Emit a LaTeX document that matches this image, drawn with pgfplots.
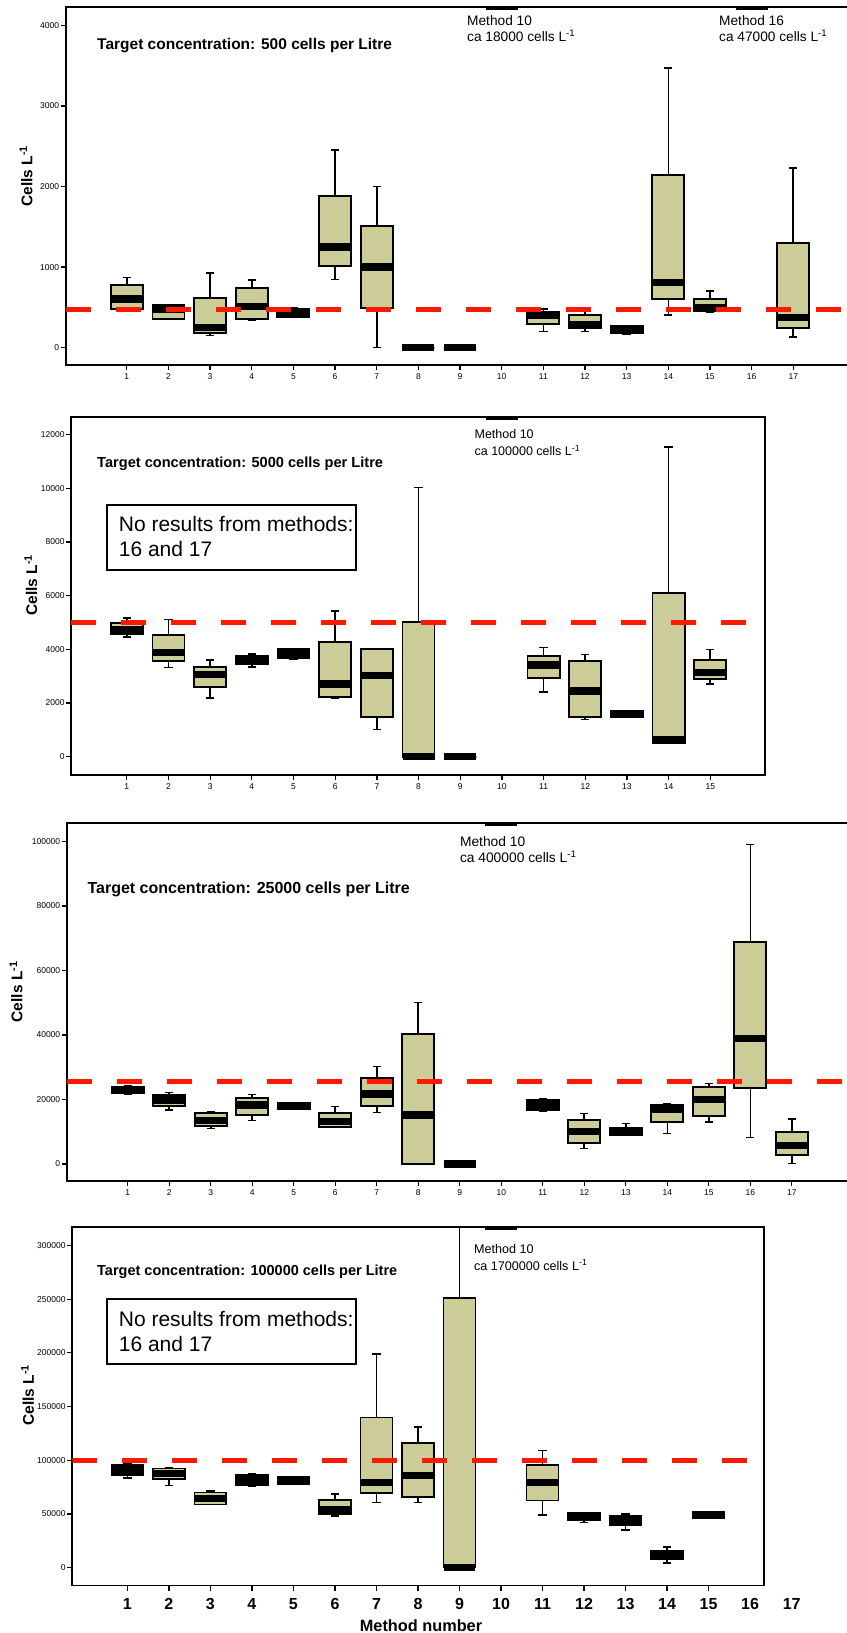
\documentclass[border=0pt]{standalone}
\usepackage{pgfplots}
\pgfplotsset{compat=1.18}
\usepackage{fontspec}
\setmainfont{Liberation Sans}
\definecolor{boxtan}{RGB}{204,204,153}
\definecolor{tred}{RGB}{255,25,0}
% box: position, lower whisker, lower quartile, median, upper quartile, upper whisker
\newcommand{\bx}[6]{%
  \pgfmathsetmacro{\xa}{#1-0.385}\pgfmathsetmacro{\xb}{#1+0.385}%
  \pgfmathsetmacro{\wa}{#1-0.1}\pgfmathsetmacro{\wb}{#1+0.1}%
  \edef\tmp{\noexpand\addplot[black, line width=1.6pt, unbounded coords=jump] coordinates {(#1,#5) (#1,#6) (nan,nan) (\wa,#6) (\wb,#6) (nan,nan) (#1,#3) (#1,#2) (nan,nan) (\wa,#2) (\wb,#2)};
  \noexpand\addplot[fill=boxtan, draw=black, line width=1.8pt] coordinates {(\xa,#3) (\xb,#3) (\xb,#5) (\xa,#5)} -- cycle;
  \noexpand\addplot[black, line width=7.3pt] coordinates {(\xa,#4) (\xb,#4)};}\tmp}
\newcommand{\topbar}[2]{%
  \pgfmathsetmacro{\xa}{#1-0.385}\pgfmathsetmacro{\xb}{#1+0.385}%
  \edef\tmp{\noexpand\addplot[black, line width=7.3pt] coordinates {(\xa,#2) (\xb,#2)};}\tmp}
\pgfplotsset{
  panel/.style={
    scale only axis,
    axis line style={line width=1.8pt},
    tick align=outside,
    tick pos=left,
    major tick length=5pt,
    major tick style={line width=1.3pt, black},
    ticklabel style={font=\fontsize{8.5}{9}\selectfont, inner sep=1.5pt},
    xticklabel style={yshift=-2pt},
    /pgf/number format/assume math mode=true,
    /pgf/number format/1000 sep={},
    scaled y ticks=false,
    yticklabel style={/pgf/number format/fixed, /pgf/number format/precision=0},
    ylabel={\bfseries Cells L\textsuperscript{-1}},
    ylabel style={font=\fontsize{15.5}{17}\selectfont, anchor=center},
  },
}
\begin{document}
\begin{tikzpicture}
\useasboundingbox (0pt,0pt) rectangle (846pt,-1633pt);
% ---------------- Panel 1 ----------------
\begin{axis}[panel, at={(65.8pt,-365pt)}, anchor=south west,
  width=786.2pt, height=358.3pt,
  xmin=-0.464, xmax=18.41, ymin=-215, ymax=4231,
  xtick={1,...,17}, ytick={0,1000,...,4000},
  ylabel style={at={(axis description cs:-0.0506,0.5275)}}]
\bx{1}{470}{476}{604}{778}{869}
\bx{2}{356}{356}{470}{530}{530}
\bx{3}{149}{179}{251}{613}{923}
\bx{4}{335}{356}{514}{744}{840}
\bx{5}{380}{380}{430}{480}{500}
\bx{6}{848}{1017}{1249}{1882}{2452}
\bx{7}{0}{496}{1001}{1505}{1998}
\bx{8}{0}{0}{0}{0}{0}
\bx{9}{0}{0}{0}{0}{0}
\topbar{10}{4231}
\bx{11}{199}{290}{405}{447}{480}
\bx{12}{199}{240}{290}{406}{501}
\bx{13}{170}{175}{220}{265}{270}
\bx{14}{406}{604}{806}{2143}{3474}
\bx{15}{439}{455}{501}{604}{707}
\topbar{16}{4231}
\bx{17}{129}{248}{377}{1303}{2233}
\addplot[tred, line width=5.3pt, dash pattern=on 25pt off 25pt] coordinates {(-0.464,470) (18.41,470)};
\end{axis}
% ---------------- Panel 2 ----------------
\begin{axis}[panel, at={(71.2pt,-775pt)}, anchor=south west,
  width=694.1pt, height=358.3pt,
  xmin=-0.334, xmax=16.32, ymin=-682, ymax=12670,
  xtick={1,...,15}, ytick={0,2000,...,12000},
  ylabel style={at={(axis description cs:-0.058,0.530)}}]
\bx{1}{4472}{4580}{4720}{4968}{5180}
\bx{2}{3329}{3565}{3888}{4533}{5117}
\bx{3}{2186}{2608}{3068}{3353}{3602}
\bx{4}{3353}{3453}{3602}{3763}{3825}
\bx{5}{3651}{3689}{3850}{3999}{4037}
\bx{6}{2174}{2236}{2708}{4273}{5428}
\bx{7}{1018}{1490}{3018}{4024}{4024}
\bx{8}{0}{0}{0}{5005}{10035}
\bx{9}{0}{0}{0}{0}{0}
\topbar{10}{12670}
\bx{11}{2422}{2919}{3415}{3763}{4074}
\bx{12}{1391}{1490}{2447}{3565}{3813}
\bx{13}{1490}{1490}{1615}{1714}{1714}
\bx{14}{497}{497}{621}{6086}{11551}
\bx{15}{2708}{2881}{3142}{3602}{3999}
\addplot[tred, line width=5.3pt, dash pattern=on 25pt off 25pt] coordinates {(-0.334,5000) (16.32,5000)};
\end{axis}
% ---------------- Panel 3 ----------------
\begin{axis}[panel, at={(66.9pt,-1181pt)}, anchor=south west,
  width=785.1pt, height=358.3pt,
  xmin=-0.465, xmax=18.45, ymin=-5271, ymax=105829,
  xtick={1,...,17}, ytick={0,20000,...,100000},
  ylabel style={at={(axis description cs:-0.0646,0.528)}}]
\bx{1}{21700}{21900}{22800}{23900}{24100}
\bx{2}{16744}{17985}{19845}{21395}{22222}
\bx{3}{11059}{11783}{13437}{15918}{16124}
\bx{4}{13437}{15194}{18295}{20362}{21602}
\bx{5}{16951}{16951}{17985}{19018}{19122}
\bx{6}{11576}{11576}{13127}{15711}{17778}
\bx{7}{16021}{17985}{21706}{26770}{30181}
\bx{8}{0}{0}{15194}{40207}{50130}
\bx{9}{0}{0}{0}{0}{0}
\topbar{10}{105829}
\bx{11}{16228}{16744}{18295}{19845}{20155}
\bx{12}{4858}{6408}{10026}{13644}{15711}
\bx{13}{8992}{8992}{10336}{11266}{12610}
\bx{14}{9509}{13116}{17100}{18295}{18821}
\bx{15}{13116}{14977}{19938}{23980}{25013}
\bx{16}{8269}{23659}{38860}{68930}{99132}
\bx{17}{200}{2791}{5788}{9820}{13953}
\addplot[tred, line width=5.3pt, dash pattern=on 25pt off 25pt] coordinates {(-0.465,25500) (18.45,25500)};
\end{axis}
% ---------------- Panel 4 ----------------
\begin{axis}[panel, at={(72.3pt,-1585.5pt)}, anchor=south west,
  width=691.9pt, height=358.8pt,
  xmin=-0.327, xmax=16.34, ymin=-16760, ymax=317500,
  xtick={1,...,15}, ytick={0,50000,...,300000},
  xticklabel style={font=\bfseries\fontsize{16}{18}\selectfont, anchor=base, yshift=-17pt},
  xlabel={\bfseries Method number},
  xlabel style={font=\fontsize{16.3}{18}\selectfont, at={(axis description cs:0.504,0)}, anchor=base, yshift=-45.5pt},
  ylabel style={at={(axis description cs:-0.0647,0.531)}}]
\bx{1}{83497}{86291}{90947}{95293}{96534}
\bx{2}{76358}{82256}{87843}{92189}{92499}
\bx{3}{58666}{58666}{64563}{69840}{71392}
\bx{4}{75427}{76669}{81635}{86291}{86912}
\bx{5}{77910}{77910}{81014}{84739}{84739}
\bx{6}{48112}{49664}{54320}{63011}{68598}
\bx{7}{60528}{69219}{79462}{139680}{198656}
\bx{8}{60528}{65494}{85670}{115779}{130678}
\bx{9}{0}{0}{0}{250803}{400000}
\topbar{10}{317500}
\bx{11}{49043}{62390}{79462}{95603}{108950}
\bx{12}{41904}{44387}{47491}{50595}{51216}
\bx{13}{35075}{39731}{44387}{48112}{49664}
\bx{14}{4035}{7760}{11795}{15830}{18934}
\bx{15}{45939}{45939}{49043}{52147}{52147}
\addplot[tred, line width=5.3pt, dash pattern=on 25pt off 25pt] coordinates {(-0.327,100000) (16.34,100000)};
\end{axis}
% ---------------- Annotations ----------------
\begin{scope}[every node/.style={inner sep=0pt, anchor=base west}]
\node[font=\bfseries\fontsize{15.5}{17}\selectfont] at (97pt,-49.3pt) {Target concentration: 500 cells per Litre};
\node[font=\fontsize{13.7}{16}\selectfont] at (467pt,-25.7pt) {Method 10};
\node[font=\fontsize{13.7}{16}\selectfont] at (467pt,-41.7pt) {ca 18000 cells L\textsuperscript{-1}};
\node[font=\fontsize{13.7}{16}\selectfont] at (719pt,-25.7pt) {Method 16};
\node[font=\fontsize{13.7}{16}\selectfont] at (719pt,-41.7pt) {ca 47000 cells L\textsuperscript{-1}};

\node[font=\bfseries\fontsize{14.6}{17}\selectfont] at (97pt,-467.3pt) {Target concentration: 5000 cells per Litre};
\node[font=\fontsize{12.5}{15}\selectfont] at (474.4pt,-438.7pt) {Method 10};
\node[font=\fontsize{12.5}{15}\selectfont] at (474.4pt,-455.7pt) {ca 100000 cells L\textsuperscript{-1}};
\draw[line width=2pt] (106.9pt,-505.3pt) rectangle (356.2pt,-570pt);
\node[font=\fontsize{21}{24}\selectfont] at (118.7pt,-531.7pt) {No results from methods:};
\node[font=\fontsize{21}{24}\selectfont] at (118.7pt,-556.7pt) {16 and 17};

\node[font=\bfseries\fontsize{16}{18}\selectfont] at (87.4pt,-893.7pt) {Target concentration: 25000 cells per Litre};
\node[font=\fontsize{13.8}{16}\selectfont] at (459.8pt,-846.3pt) {Method 10};
\node[font=\fontsize{13.8}{16}\selectfont] at (459.8pt,-862.7pt) {ca 400000 cells L\textsuperscript{-1}};

\node[font=\bfseries\fontsize{14.5}{17}\selectfont] at (97pt,-1275.7pt) {Target concentration: 100000 cells per Litre};
\node[font=\fontsize{12.6}{15}\selectfont] at (473.8pt,-1253.3pt) {Method 10};
\node[font=\fontsize{12.6}{15}\selectfont] at (473.8pt,-1270pt) {ca 1700000 cells L\textsuperscript{-1}};
\draw[line width=2pt] (106.9pt,-1299.3pt) rectangle (356.2pt,-1364.3pt);
\node[font=\fontsize{21}{24}\selectfont] at (118.7pt,-1326.7pt) {No results from methods:};
\node[font=\fontsize{21}{24}\selectfont] at (118.7pt,-1351.7pt) {16 and 17};
\end{scope}
\node[font=\bfseries\fontsize{16}{18}\selectfont, inner sep=0pt, anchor=base] at (750.1pt,-1609.3pt) {16};
\node[font=\bfseries\fontsize{16}{18}\selectfont, inner sep=0pt, anchor=base] at (791.7pt,-1609.3pt) {17};
\end{tikzpicture}
\end{document}
